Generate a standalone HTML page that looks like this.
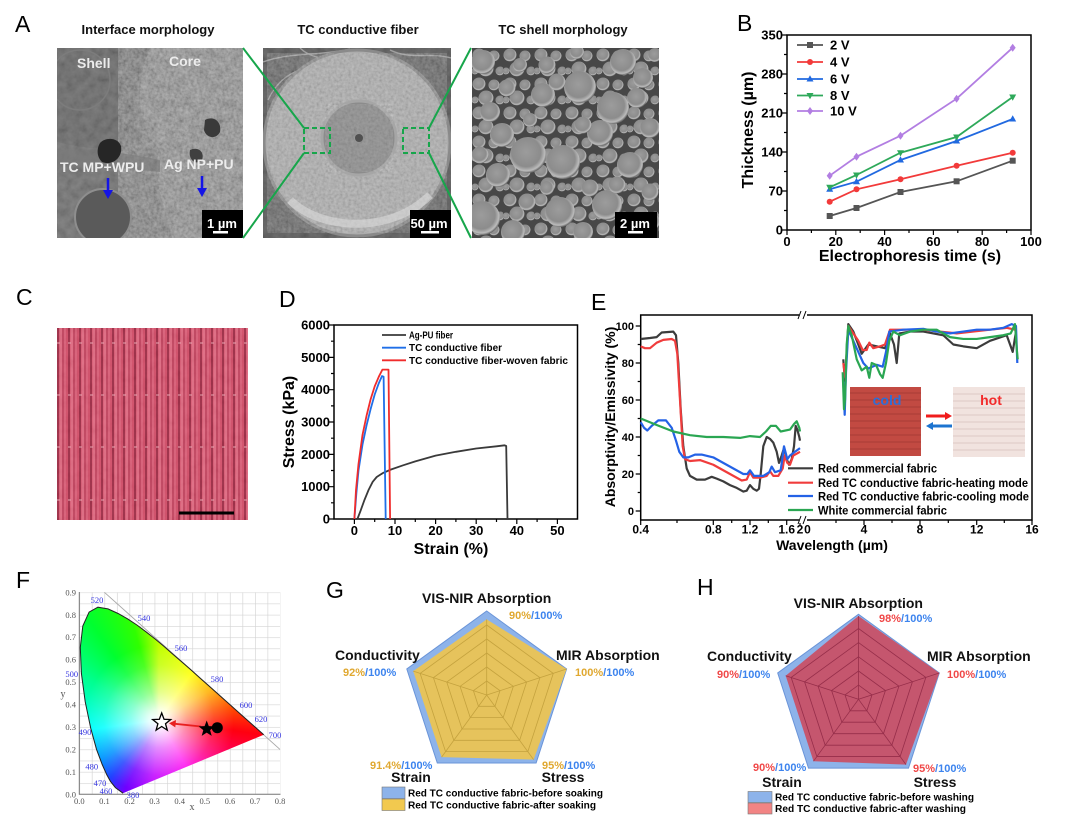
<!DOCTYPE html>
<html><head><meta charset="utf-8">
<style>
html,body{margin:0;padding:0;background:#fff;}
#wrap{position:relative;width:1080px;height:816px;overflow:hidden;background:#fff;font-family:"Liberation Sans",Arial,sans-serif;}
#wrap svg{position:absolute;left:0;top:0;}
#cie{position:absolute;left:79px;top:592px;width:202px;height:203px;z-index:2;
background:
radial-gradient(circle at 80px 128px, rgba(255,255,255,1) 0px, rgba(255,255,255,.9) 10px, rgba(255,255,255,.55) 28px, rgba(255,255,255,.15) 55px, rgba(255,255,255,0) 75px),
conic-gradient(from 0deg at 80px 128px, #c0ff00 0deg, #ffff00 35deg, #ffb000 60deg, #ff5000 80deg, #ff0010 98deg, #ff0080 125deg, #ff00f0 150deg, #c000ff 185deg, #7000ff 206deg, #2040ff 220deg, #0090ff 235deg, #00ffff 262deg, #00ff90 300deg, #00ff30 325deg, #30ff00 345deg, #c0ff00 360deg);
clip-path:polygon(44px 201.2px,36.4px 195.6px,31.4px 189.3px,27.8px 182.8px,23.2px 172.5px,17.5px 157.3px,11.7px 136.1px,6.2px 109.7px,2.4px 81.5px,1.3px 55.4px,3.8px 34px,10.1px 20.1px,18.9px 15.2px,29px 16.9px,39.1px 21.5px,48.7px 26.9px,57.9px 33px,67px 39.8px,76px 46.9px,85px 54.4px,93.9px 62.2px,102.9px 70px,111.8px 77.8px,120.5px 85.6px,129px 93.1px,137px 100.3px,144.7px 107.1px,151.6px 113.3px,157.7px 118.7px,167.4px 127.4px,173.9px 133.1px,178px 136.8px,180.8px 139.3px,182.5px 140.8px,184.7px 142.8px);}
</style></head>
<body><div id="wrap">
<svg width="1080" height="816" viewBox="0 0 1080 816" style="z-index:1" font-family="'Liberation Sans', Arial, sans-serif">
<defs>
<filter id="nz" x="0" y="0" width="100%" height="100%">
<feTurbulence type="fractalNoise" baseFrequency="0.35" numOctaves="2" seed="3"/>
<feColorMatrix type="matrix" values="1 0 0 0 0  1 0 0 0 0  1 0 0 0 0  0 0 0 0 0.45"/>
</filter>
<filter id="nz2" x="0" y="0" width="100%" height="100%">
<feTurbulence type="fractalNoise" baseFrequency="0.12" numOctaves="3" seed="7"/>
<feColorMatrix type="matrix" values="1 0 0 0 0  1 0 0 0 0  1 0 0 0 0  0 0 0 0 0.4"/>
</filter>
<radialGradient id="sph" cx="45%" cy="42%" r="58%">
<stop offset="0" stop-color="#9c9c9c"/><stop offset="0.7" stop-color="#8c8c8c"/><stop offset="0.9" stop-color="#bcbcbc"/><stop offset="1" stop-color="#6a6a6a"/>
</radialGradient>
<pattern id="fill" patternUnits="userSpaceOnUse" x="472" y="48" width="31" height="29">
<rect width="31" height="29" fill="#474747"/>
<circle cx="7" cy="7" r="6.5" fill="url(#sph)"/>
<circle cx="22" cy="8" r="5.5" fill="url(#sph)"/>
<circle cx="14" cy="21" r="7.5" fill="url(#sph)"/>
<circle cx="28" cy="23" r="4.5" fill="url(#sph)"/>
<circle cx="3" cy="23" r="3.5" fill="url(#sph)"/>
</pattern>
<clipPath id="cl1"><rect x="57" y="48" width="186" height="190"/></clipPath>
<clipPath id="cl2"><rect x="263" y="48" width="188" height="190"/></clipPath>
<clipPath id="cl3"><rect x="472" y="48" width="187" height="190"/></clipPath>
<pattern id="fab" patternUnits="userSpaceOnUse" x="57" y="328" width="11" height="52">
<rect width="11" height="52" fill="#d24b66"/>
<rect x="2.5" width="2.5" height="52" fill="#e06880"/>
<rect x="7" width="2" height="52" fill="#da5c76"/>
<rect x="0" width="2" height="52" fill="#9e2a44"/>
<rect x="5.5" width="1" height="52" fill="#b23854"/>
</pattern>
<pattern id="grid" patternUnits="userSpaceOnUse" x="79.3" y="592.34" width="12.55" height="11.22">
<path d="M0 0.3 H12.55 M0.3 0 V11.22" stroke="#d4d4d4" stroke-width="0.7" fill="none"/>
</pattern>
<rect id="sq" x="-3" y="-3" width="6" height="6"/>
<circle id="ci" r="3"/>
<polygon id="tu" points="0,-3.8 3.5,2.5 -3.5,2.5"/>
<polygon id="td" points="0,3.8 3.5,-2.5 -3.5,-2.5"/>
<polygon id="di" points="0,-4 3,0 0,4 -3,0"/>
</defs>

<!-- ===== Panel A ===== -->
<text x="15" y="32" font-size="23">A</text>
<g font-weight="bold" font-size="13" text-anchor="middle" fill="#111">
<text x="148" y="34">Interface morphology</text>
<text x="358" y="34">TC conductive fiber</text>
<text x="563" y="34">TC shell morphology</text>
</g>
<!-- left SEM -->
<g clip-path="url(#cl1)">
<rect x="57" y="48" width="186" height="190" fill="#6a6a6a"/>
<path d="M57 48 H150 C138 80 128 112 142 140 C120 152 90 150 57 142 Z" fill="#626262"/>
<path d="M150 48 H243 V238 H172 C165 205 150 175 160 150 C140 130 132 90 150 48Z" fill="#7e7e7e"/>
<rect x="118" y="48" width="125" height="190" filter="url(#nz)" opacity="0.85"/>
<rect x="57" y="48" width="186" height="190" filter="url(#nz2)" opacity="0.5"/>
<path d="M57 150 C90 148 120 152 160 160 L160 172 C120 168 90 165 57 168Z" fill="#7a7a7a" opacity="0.6"/>
<path d="M100 143 C105 137 118 137 121 146 C123 158 112 166 102 162 C96 156 97 148 100 143Z" fill="#262626"/>
<path d="M205 120 C214 115 222 122 220 132 C216 140 206 138 204 130Z" fill="#3a3a3a"/>
<path d="M190 150 C198 146 205 152 202 160 C196 166 188 160 190 150Z" fill="#404040"/>
<circle cx="103" cy="217" r="28" fill="#5a5a5a" stroke="#8e8e8e" stroke-width="2"/>
<circle cx="80" cy="80" r="30" fill="none" stroke="#7c7c7c" stroke-width="1.5"/>
<g font-weight="bold" font-size="14" fill="#ececec">
<text x="77" y="68">Shell</text>
<text x="169" y="66">Core</text>
<text x="60" y="172">TC MP+WPU</text>
<text x="164" y="169">Ag NP+PU</text>
</g>
<g stroke="#1414e6" stroke-width="2.5" fill="#1414e6">
<line x1="108" y1="178" x2="108" y2="192"/><polygon points="103,190 113,190 108,199" stroke="none"/>
<line x1="202" y1="176" x2="202" y2="190"/><polygon points="197,188 207,188 202,197" stroke="none"/>
</g>
<rect x="202" y="210" width="41" height="28" fill="#000"/>
<text x="222" y="228" font-weight="bold" font-size="13" fill="#fff" text-anchor="middle">1 µm</text>
<rect x="213" y="231" width="15" height="2.5" fill="#fff"/>
</g>
<!-- middle SEM -->
<g clip-path="url(#cl2)">
<rect x="263" y="48" width="188" height="190" fill="#505050"/>
<rect x="263" y="48" width="188" height="190" filter="url(#nz2)" opacity="0.5"/>
<path d="M263 62 C290 52 320 56 350 49 M300 48 C310 58 330 62 360 60 M390 50 C410 60 430 52 451 58 M268 100 C275 85 285 75 300 70" stroke="#a0a0a0" stroke-width="1.4" fill="none"/>
<circle cx="357" cy="143" r="93" fill="#acacac"/>
<circle cx="357" cy="143" r="93" fill="none" stroke="#8a8a8a" stroke-width="3"/>
<circle cx="357" cy="143" r="90" fill="#000" filter="url(#nz)" opacity="0.55"/>
<path d="M290 200 C320 230 390 235 430 195" stroke="#dcdcdc" stroke-width="8" fill="none" opacity="0.6"/>
<circle cx="359" cy="138" r="37" fill="#8c8c8c" stroke="#a6a6a6" stroke-width="3"/>
<circle cx="359" cy="138" r="34" fill="#000" filter="url(#nz)" opacity="0.4"/>
<circle cx="359" cy="138" r="4" fill="#505050"/>
<rect x="410" y="210" width="41" height="28" fill="#000"/>
<text x="429" y="228" font-weight="bold" font-size="13" fill="#fff" text-anchor="middle">50 µm</text>
<rect x="421" y="231" width="18" height="2.5" fill="#fff"/>
</g>
<!-- right SEM -->
<g clip-path="url(#cl3)">
<rect x="472" y="48" width="187" height="190" fill="url(#fill)"/>
<g fill="url(#sph)">
<circle cx="580" cy="87" r="16"/><circle cx="613" cy="108" r="16"/><circle cx="528" cy="155" r="18"/>
<circle cx="563" cy="162" r="17"/><circle cx="607" cy="205" r="15"/><circle cx="600" cy="133" r="13"/>
<circle cx="623" cy="62" r="13"/><circle cx="543" cy="95" r="12"/><circle cx="502" cy="135" r="12"/>
<circle cx="483" cy="218" r="17"/><circle cx="560" cy="212" r="15"/><circle cx="498" cy="175" r="12"/>
<circle cx="637" cy="98" r="10"/><circle cx="630" cy="165" r="13"/><circle cx="483" cy="62" r="12"/>
<circle cx="507" cy="88" r="8.5"/><circle cx="557" cy="82" r="8.5"/><circle cx="583" cy="125" r="8.5"/>
<circle cx="643" cy="78" r="10"/><circle cx="490" cy="112" r="10"/><circle cx="650" cy="128" r="10"/>
<circle cx="527" cy="202" r="8.5"/><circle cx="513" cy="232" r="12"/><circle cx="583" cy="232" r="10"/>
<circle cx="577" cy="52" r="7"/><circle cx="547" cy="65" r="8.5"/><circle cx="520" cy="65" r="7"/>
<circle cx="617" cy="185" r="8.5"/><circle cx="590" cy="188" r="8.5"/><circle cx="547" cy="188" r="7"/>
<circle cx="650" cy="192" r="8.5"/><circle cx="480" cy="155" r="8.5"/><circle cx="633" cy="236" r="7"/>
<circle cx="652" cy="222" r="8"/><circle cx="530" cy="120" r="7"/><circle cx="655" cy="55" r="7"/>
</g>
<rect x="615" y="212" width="42" height="26" fill="#000"/>
<text x="635" y="228" font-weight="bold" font-size="13" fill="#fff" text-anchor="middle">2 µm</text>
<rect x="628" y="231" width="15" height="2.5" fill="#fff"/>
</g>
<g stroke="#17a64b" stroke-width="2" fill="none">
<path d="M243 48 L304 128 M243 238 L304 153 M429 128 L471 48 M429 153 L471 238"/>
<rect x="304" y="128" width="26" height="25" stroke-dasharray="5 3"/>
<rect x="403" y="128" width="26" height="25" stroke-dasharray="5 3"/>
</g>

<!-- ===== Panel B ===== -->
<text x="737" y="31" font-size="23">B</text>
<rect x="787" y="35" width="244" height="195" fill="none" stroke="#000" stroke-width="1.5"/>
<g stroke="#000" stroke-width="1.2">
<path d="M787 35 h-5 M787 74 h-5 M787 113 h-5 M787 152 h-5 M787 191 h-5 M787 230 h-5 M787 54.5 h-3 M787 93.5 h-3 M787 132.5 h-3 M787 171.5 h-3 M787 210.5 h-3"/>
<path d="M787 230 v5 M835.8 230 v5 M884.6 230 v5 M933.4 230 v5 M982.2 230 v5 M1031 230 v5 M811.4 230 v3 M860.2 230 v3 M909 230 v3 M957.8 230 v3 M1006.6 230 v3"/>
</g>
<g font-weight="bold" font-size="13" text-anchor="end">
<text x="783" y="39.5">350</text><text x="783" y="78.5">280</text><text x="783" y="117.5">210</text>
<text x="783" y="156.5">140</text><text x="783" y="195.5">70</text><text x="783" y="234.5">0</text>
</g>
<g font-weight="bold" font-size="13" text-anchor="middle">
<text x="787" y="246">0</text><text x="835.8" y="246">20</text><text x="884.6" y="246">40</text>
<text x="933.4" y="246">60</text><text x="982.2" y="246">80</text><text x="1031" y="246">100</text>
</g>
<text x="910" y="261" font-weight="bold" font-size="16" text-anchor="middle">Electrophoresis time (s)</text>
<text transform="translate(753,130) rotate(-90)" font-weight="bold" font-size="16" text-anchor="middle">Thickness (µm)</text>
<g fill="none" stroke-width="1.8">
<path d="M829.7,216 L856.5,208 L900.5,192 L956.6,181.3 L1012.7,160.7" stroke="#555"/>
<path d="M829.7,201.7 L856.5,189.3 L900.5,179.3 L956.6,165.7 L1012.7,152.7" stroke="#f23a3a"/>
<path d="M829.7,189.3 L856.5,181.7 L900.5,160 L956.6,141 L1012.7,119" stroke="#2169e0"/>
<path d="M829.7,187.3 L856.5,175 L900.5,152.7 L956.6,137 L1012.7,97" stroke="#2ea95a"/>
<path d="M829.7,175.7 L856.5,156.7 L900.5,135.7 L956.6,98.7 L1012.7,47.7" stroke="#b27ee2"/>
</g>
<g fill="#555"><use href="#sq" x="829.7" y="216"/><use href="#sq" x="856.5" y="208"/><use href="#sq" x="900.5" y="192"/><use href="#sq" x="956.6" y="181.3"/><use href="#sq" x="1012.7" y="160.7"/></g>
<g fill="#f23a3a"><use href="#ci" x="829.7" y="201.7"/><use href="#ci" x="856.5" y="189.3"/><use href="#ci" x="900.5" y="179.3"/><use href="#ci" x="956.6" y="165.7"/><use href="#ci" x="1012.7" y="152.7"/></g>
<g fill="#2169e0"><use href="#tu" x="829.7" y="189.3"/><use href="#tu" x="856.5" y="181.7"/><use href="#tu" x="900.5" y="160"/><use href="#tu" x="956.6" y="141"/><use href="#tu" x="1012.7" y="119"/></g>
<g fill="#2ea95a"><use href="#td" x="829.7" y="187.3"/><use href="#td" x="856.5" y="175"/><use href="#td" x="900.5" y="152.7"/><use href="#td" x="956.6" y="137"/><use href="#td" x="1012.7" y="97"/></g>
<g fill="#b27ee2"><use href="#di" x="829.7" y="175.7"/><use href="#di" x="856.5" y="156.7"/><use href="#di" x="900.5" y="135.7"/><use href="#di" x="956.6" y="98.7"/><use href="#di" x="1012.7" y="47.7"/></g>
<g stroke-width="1.8">
<line x1="797" y1="45" x2="823" y2="45" stroke="#555"/><use href="#sq" x="810" y="45" fill="#555"/>
<line x1="797" y1="62" x2="823" y2="62" stroke="#f23a3a"/><use href="#ci" x="810" y="62" fill="#f23a3a"/>
<line x1="797" y1="79" x2="823" y2="79" stroke="#2169e0"/><use href="#tu" x="810" y="79" fill="#2169e0"/>
<line x1="797" y1="95.5" x2="823" y2="95.5" stroke="#2ea95a"/><use href="#td" x="810" y="95.5" fill="#2ea95a"/>
<line x1="797" y1="111" x2="823" y2="111" stroke="#b27ee2"/><use href="#di" x="810" y="111" fill="#b27ee2"/>
</g>
<g font-weight="bold" font-size="13">
<text x="830" y="49.5">2 V</text><text x="830" y="66.5">4 V</text><text x="830" y="83.5">6 V</text>
<text x="830" y="100">8 V</text><text x="830" y="115.5">10 V</text>
</g>

<!-- ===== Panel C ===== -->
<text x="16" y="305" font-size="23">C</text>
<rect x="57" y="328" width="191" height="192" fill="url(#fab)"/>
<g stroke="#eaa0ad" stroke-width="1.5" stroke-dasharray="3 8" opacity="0.7">
<line x1="57" y1="343" x2="248" y2="343"/><line x1="57" y1="395" x2="248" y2="395"/>
<line x1="57" y1="447" x2="248" y2="447"/><line x1="57" y1="500" x2="248" y2="500"/>
</g>
<rect x="57" y="328" width="191" height="192" filter="url(#nz2)" opacity="0.2"/>
<line x1="179" y1="513" x2="234" y2="513" stroke="#000" stroke-width="3"/>

<!-- ===== Panel D ===== -->
<text x="279" y="307" font-size="23">D</text>
<rect x="334" y="325" width="243.5" height="194" fill="none" stroke="#000" stroke-width="1.5"/>
<g stroke="#000" stroke-width="1.2">
<path d="M334 519 h-5 M334 486.7 h-5 M334 454.4 h-5 M334 422 h-5 M334 389.7 h-5 M334 357.4 h-5 M334 325 h-5 M334 502.8 h-3 M334 470.5 h-3 M334 438.2 h-3 M334 405.9 h-3 M334 373.5 h-3 M334 341.2 h-3"/>
<path d="M354.4 519 v5 M395 519 v5 M435.6 519 v5 M476.2 519 v5 M516.8 519 v5 M557.4 519 v5 M374.7 519 v3 M415.3 519 v3 M455.9 519 v3 M496.5 519 v3 M537.1 519 v3"/>
</g>
<g font-weight="bold" font-size="13" text-anchor="end">
<text x="330" y="523.5">0</text><text x="330" y="491.2">1000</text><text x="330" y="458.9">2000</text>
<text x="330" y="426.5">3000</text><text x="330" y="394.2">4000</text><text x="330" y="361.9">5000</text><text x="330" y="329.5">6000</text>
</g>
<g font-weight="bold" font-size="13" text-anchor="middle">
<text x="354.4" y="535">0</text><text x="395" y="535">10</text><text x="435.6" y="535">20</text>
<text x="476.2" y="535">30</text><text x="516.8" y="535">40</text><text x="557.4" y="535">50</text>
</g>
<text x="451" y="554" font-weight="bold" font-size="16" text-anchor="middle">Strain (%)</text>
<text transform="translate(294,422) rotate(-90)" font-weight="bold" font-size="16" text-anchor="middle">Stress (kPa)</text>
<g fill="none" stroke-width="1.8" stroke-linejoin="round">
<path d="M357.4,519 L360.5,510.9 L364.6,499.6 L368.6,489.9 L372.7,481.8 L376.7,477 L382.8,473.1 L391,469.5 L403.1,465.3 L415.3,461.4 L435.6,455.6 L455.9,451.8 L476.2,448.5 L496.5,446.3 L504.6,445.3 L506.2,446 L507.5,519" stroke="#3a3a3a"/>
<path d="M354.4,519 L356.4,493.1 L358.5,470.5 L362.5,444.6 L366.6,425.2 L370.6,409.1 L374.7,394.5 L378.8,383.2 L382,376.1 L383.6,376.7 L385.7,519" stroke="#1f6fe8"/>
<path d="M354.4,519 L356,489.9 L358.5,464 L362.5,434.9 L366.6,415.5 L370.6,399.4 L374.7,386.4 L378.8,376.7 L382.4,369.6 L388.5,369.6 L390.1,519" stroke="#f02c2c"/>
</g>
<g stroke-width="1.8">
<line x1="382" y1="335" x2="406" y2="335" stroke="#3a3a3a"/>
<line x1="382" y1="347.7" x2="406" y2="347.7" stroke="#1f6fe8"/>
<line x1="382" y1="360.3" x2="406" y2="360.3" stroke="#f02c2c"/>
</g>
<g font-weight="bold" font-size="10">
<text x="409" y="338.5" textLength="44" lengthAdjust="spacingAndGlyphs">Ag-PU fiber</text>
<text x="409" y="351.2" textLength="93" lengthAdjust="spacingAndGlyphs">TC conductive fiber</text>
<text x="409" y="363.8" textLength="159" lengthAdjust="spacingAndGlyphs">TC conductive fiber-woven fabric</text>
</g>

<!-- ===== Panel E ===== -->
<text x="591" y="310" font-size="23">E</text>
<rect x="640.7" y="315" width="391.3" height="205" fill="none" stroke="#000" stroke-width="1.5"/>
<g stroke="#000" stroke-width="1.2">
<path d="M640.7 511 h-5 M640.7 474 h-5 M640.7 437 h-5 M640.7 400 h-5 M640.7 363 h-5 M640.7 326 h-5 M640.7 492.5 h-3 M640.7 455.5 h-3 M640.7 418.5 h-3 M640.7 381.5 h-3 M640.7 344.5 h-3"/>
<path d="M640.7 520 v5 M713.3 520 v5 M750 520 v5 M786.7 520 v5 M800 520 v5 M864 520 v5 M920 520 v5 M976.7 520 v5 M1032 520 v5 M677 520 v3 M731.7 520 v3 M768.3 520 v3 M836 520 v3 M892 520 v3 M948.3 520 v3 M1004.3 520 v3"/>
</g>
<rect x="799" y="312" width="8" height="6" fill="#fff"/>
<rect x="799" y="517" width="8" height="6" fill="#fff"/>
<g stroke="#000" stroke-width="1"><path d="M798 319 L801 311 M803 319 L806 311 M798 524 L801 516 M803 524 L806 516"/></g>
<g font-weight="bold" font-size="11" text-anchor="end">
<text x="634" y="515">0</text><text x="634" y="478">20</text><text x="634" y="441">40</text>
<text x="634" y="404">60</text><text x="634" y="367">80</text><text x="634" y="330">100</text>
</g>
<g font-weight="bold" font-size="12" text-anchor="middle">
<text x="640.7" y="533.5">0.4</text><text x="713.3" y="533.5">0.8</text><text x="750" y="533.5">1.2</text>
<text x="786.7" y="533.5">1.6</text><text x="800" y="533.5">2</text><text x="807.5" y="533.5">0</text>
<text x="864" y="533.5">4</text><text x="920" y="533.5">8</text><text x="976.7" y="533.5">12</text><text x="1032" y="533.5">16</text>
</g>
<text x="832" y="550" font-weight="bold" font-size="14" text-anchor="middle">Wavelength (µm)</text>
<text transform="translate(615,417) rotate(-90)" font-weight="bold" font-size="14" text-anchor="middle">Absorptivity/Emissivity (%)</text>
<g fill="none" stroke-width="2.2" stroke-linejoin="round">
<path stroke="#3c3c3c" d="M640.7,339 L650,338 L656.7,337.1 L661.7,332.5 L673.3,331.6 L676,335.3 L678.3,363 L680.7,409.3 L683.3,446.3 L686.7,468.5 L690,475.9 L696.7,479.6 L705,479.6 L711.7,476.8 L716.7,478.6 L723.3,481.4 L730,485.1 L736.7,487.9 L743.3,491.6 L746.7,490.7 L750,485.1 L753.3,488.8 L756.7,490.7 L759,488.8 L760.7,474 L763.3,446.3 L766.7,437 L770,438.9 L773.3,442.6 L776.7,451.8 L779,462.9 L781.7,455.5 L784,448.1 L786.7,459.2 L789,464.75 L791.7,459.2 L794,446.3 L795.7,425.9 L797.3,429.6 L799.3,437 L800,440.7"/>
<path stroke="#3c3c3c" d="M843.3,359.3 L845,381.5 L848.3,324.15 L853.3,331.55 L858.3,344.5 L861.7,353.75 L868.3,344.5 L876.7,346.35 L885,348.2 L890,333.4 L894,344.5 L896.7,363 L899.3,333.4 L910,331.55 L923.3,331.55 L943.3,335.25 L953.3,344.5 L963.3,346.35 L976.7,348.2 L990,340.8 L1006.7,335.25 L1012.7,351.9 L1016,331.55"/>
<path stroke="#f03c3c" d="M640.7,346.4 L645,348.2 L650,348.2 L656.7,342.7 L663.3,339.9 L671.7,339 L675,340.8 L677.3,353.7 L680,400 L682.7,446.3 L685,459.2 L690,461 L700,460.1 L713.3,464.75 L730,474 L741.7,480.5 L746.7,479.6 L750,472.2 L753.3,477.7 L760,477.7 L766.7,475.9 L770,471.2 L773.3,475.9 L778.3,475.9 L782.7,468.5 L784.7,455.5 L787.3,462.9 L790,464.75 L793.3,455.5 L796.7,453.7 L800,451.8"/>
<path stroke="#f03c3c" d="M843.3,363 L845.3,377.8 L848.3,326 L853.3,333.4 L858.3,340.8 L862.7,350 L866.7,350 L869.3,342.65 L873.3,348.2 L880,346.35 L885,344.5 L890,329.7 L906.7,329.7 L923.3,329.7 L940,331.55 L956.7,333.4 L973.3,331.55 L990,329.7 L1006.7,327.85 L1015,329.7"/>
<path stroke="#2462e6" d="M640.7,422.2 L644,427.75 L647.3,430.5 L651.7,425.9 L658.3,420.4 L666,420.4 L671.7,427.75 L676,440.7 L679.3,451.8 L683.3,457.4 L688.3,457.4 L695,454.6 L701.7,454.6 L713.3,457.4 L730,466.6 L743.3,474 L747.3,474 L750,470.3 L754,475.9 L763.3,475.9 L769.3,472.2 L771.7,466.6 L775,472.2 L780.7,470.3 L784,446.3 L787.3,459.2 L790,455.5 L795,451.8 L800,448.1"/>
<path stroke="#2462e6" d="M843.3,381.5 L844.7,414.8 L846,372.25 L848.3,329.7 L853.3,340.8 L858.3,351.9 L863.3,363 L868.3,368.55 L876.7,364.85 L882.7,366.7 L886,351.9 L889.3,331.55 L903.3,329.7 L923.3,328.8 L936.7,331.55 L950,333.4 L963.3,331.55 L976.7,329.7 L990,329.7 L1003.3,327.85 L1011.7,324.15 L1016,326 L1017.3,363"/>
<path stroke="#2aa652" d="M640.7,418.5 L656.7,425 L673.3,431.5 L690,435.2 L706.7,437 L723.3,437 L740,437.9 L750,436.1 L760,437 L766,431.5 L770.7,425.9 L776,425.9 L780.7,431.5 L790,429.6 L794,424 L796.7,421.3 L799.3,427.75 L800,431.5"/>
<path stroke="#2aa652" d="M842.7,372.25 L844,409.25 L845,400 L846.7,344.5 L848.3,326 L851.7,335.25 L856.7,359.3 L861.7,370.4 L866.7,366.7 L869.3,377.8 L871.7,363 L876,364.85 L880,374.1 L882.7,377.8 L886,363 L889.3,340.8 L893.3,331.55 L900,335.25 L910,331.55 L923.3,329.7 L936.7,329.7 L943.3,333.4 L950,337.1 L963.3,338.95 L976.7,338.95 L990,337.1 L1003.3,335.25 L1010.7,333.4 L1015,324.15 L1016.7,348.2 L1017.7,359.3"/>
</g>
<!-- inset -->
<rect x="850" y="387" width="71" height="69" fill="#c24a42"/>
<g stroke="#98342e" stroke-width="0.8" opacity="0.8">
<path d="M850 393 H921 M850 400 H921 M850 407 H921 M850 414 H921 M850 421 H921 M850 428 H921 M850 435 H921 M850 442 H921 M850 449 H921"/>
</g>
<rect x="953" y="387" width="72" height="70" fill="#f1e3df"/>
<g stroke="#d6c2bd" stroke-width="0.8">
<path d="M953 394 H1025 M953 401 H1025 M953 408 H1025 M953 415 H1025 M953 422 H1025 M953 429 H1025 M953 436 H1025 M953 443 H1025 M953 450 H1025"/>
</g>
<text x="887" y="405" font-weight="bold" font-size="14" fill="#2e6ed6" text-anchor="middle">cold</text>
<text x="991" y="405" font-weight="bold" font-size="14" fill="#f22a2a" text-anchor="middle">hot</text>
<line x1="926" y1="416" x2="946" y2="416" stroke="#f01c1c" stroke-width="3"/><polygon points="945,412 952,416 945,420" fill="#f01c1c"/>
<line x1="932" y1="426" x2="952" y2="426" stroke="#1c74d0" stroke-width="3"/><polygon points="933,422 926,426 933,430" fill="#1c74d0"/>
<g stroke-width="2.2">
<line x1="788" y1="468.3" x2="813" y2="468.3" stroke="#3c3c3c"/>
<line x1="788" y1="482.7" x2="813" y2="482.7" stroke="#f03c3c"/>
<line x1="788" y1="496" x2="813" y2="496" stroke="#2462e6"/>
<line x1="788" y1="510" x2="813" y2="510" stroke="#2aa652"/>
</g>
<g font-weight="bold" font-size="11.5">
<text x="818" y="472.5" textLength="119" lengthAdjust="spacingAndGlyphs">Red commercial fabric</text>
<text x="818" y="487" textLength="210" lengthAdjust="spacingAndGlyphs">Red TC conductive fabric-heating mode</text>
<text x="818" y="500.3" textLength="211" lengthAdjust="spacingAndGlyphs">Red TC conductive fabric-cooling mode</text>
<text x="818" y="514.3" textLength="129" lengthAdjust="spacingAndGlyphs">White commercial fabric</text>
</g>

<!-- ===== Panel F (axes/grid) ===== -->
<text x="16" y="588" font-size="23">F</text>
<rect x="79.3" y="592.3" width="201" height="202.3" fill="url(#grid)"/>
<line x1="79.3" y1="592" x2="79.3" y2="794.6" stroke="#777" stroke-width="1"/>
<line x1="79" y1="794.3" x2="280.5" y2="794.3" stroke="#777" stroke-width="1"/>
<line x1="104.4" y1="592.3" x2="280" y2="749.4" stroke="#a8a8a8" stroke-width="0.9"/>
<g font-family="'Liberation Serif', serif" font-size="8.5" fill="#555" text-anchor="end">
<text x="76" y="797.3">0.0</text><text x="76" y="774.9">0.1</text><text x="76" y="752.4">0.2</text><text x="76" y="730">0.3</text>
<text x="76" y="707.5">0.4</text><text x="76" y="685.1">0.5</text><text x="76" y="662.7">0.6</text><text x="76" y="640.2">0.7</text>
<text x="76" y="617.8">0.8</text><text x="76" y="595.3">0.9</text>
</g>
<g font-family="'Liberation Serif', serif" font-size="8.5" fill="#555" text-anchor="middle">
<text x="79.3" y="804">0.0</text><text x="104.4" y="804">0.1</text><text x="129.5" y="804">0.2</text><text x="154.6" y="804">0.3</text>
<text x="179.7" y="804">0.4</text><text x="204.8" y="804">0.5</text><text x="229.9" y="804">0.6</text><text x="255" y="804">0.7</text><text x="280.1" y="804">0.8</text>
<text x="192" y="810" font-size="10">x</text><text x="63" y="697" font-size="10">y</text>
</g>

<!-- ===== Panel G ===== -->
<text x="326" y="598" font-size="23">G</text>
<polygon points="486.7,611 566.6,669 536.1,763 437.3,763 406.8,669" fill="#8db3ea" stroke="#6a94d8" stroke-width="1"/>
<polygon points="486.7,619.4 566.6,669 533.6,759.6 441.6,757.1 413.2,671.1" fill="#e6c35c"/>
<g fill="none" stroke="#c4a23e" stroke-width="0.8">
<polygon points="0,-1 0.9511,-0.309 0.5878,0.809 -0.5878,0.809 -0.9511,-0.309" transform="translate(486.7 695) scale(14)" vector-effect="non-scaling-stroke"/>
<polygon points="0,-1 0.9511,-0.309 0.5878,0.809 -0.5878,0.809 -0.9511,-0.309" transform="translate(486.7 695) scale(28)" vector-effect="non-scaling-stroke"/>
<polygon points="0,-1 0.9511,-0.309 0.5878,0.809 -0.5878,0.809 -0.9511,-0.309" transform="translate(486.7 695) scale(42)" vector-effect="non-scaling-stroke"/>
<polygon points="0,-1 0.9511,-0.309 0.5878,0.809 -0.5878,0.809 -0.9511,-0.309" transform="translate(486.7 695) scale(56)" vector-effect="non-scaling-stroke"/>
<polygon points="0,-1 0.9511,-0.309 0.5878,0.809 -0.5878,0.809 -0.9511,-0.309" transform="translate(486.7 695) scale(70)" vector-effect="non-scaling-stroke"/>
<path d="M486.7,695 L486.7,619.4 M486.7,695 L566.6,669 M486.7,695 L533.6,759.6 M486.7,695 L441.6,757.1 M486.7,695 L413.2,671.1"/>
</g>
<g font-weight="bold" font-size="14" fill="#111">
<text x="486.7" y="603" text-anchor="middle">VIS-NIR Absorption</text>
<text x="556" y="660">MIR Absorption</text>
<text x="335" y="660">Conductivity</text>
<text x="411" y="782" text-anchor="middle">Strain</text>
<text x="563" y="782" text-anchor="middle">Stress</text>
</g>
<g font-weight="bold" font-size="11">
<text x="509" y="619"><tspan fill="#e0a830">90%</tspan><tspan fill="#3d84ee">/100%</tspan></text>
<text x="575" y="676"><tspan fill="#e0a830">100%</tspan><tspan fill="#3d84ee">/100%</tspan></text>
<text x="343" y="676"><tspan fill="#e0a830">92%</tspan><tspan fill="#3d84ee">/100%</tspan></text>
<text x="370" y="769"><tspan fill="#e0a830">91.4%</tspan><tspan fill="#3d84ee">/100%</tspan></text>
<text x="542" y="769"><tspan fill="#e0a830">95%</tspan><tspan fill="#3d84ee">/100%</tspan></text>
</g>
<rect x="382" y="787" width="23" height="11.5" fill="#8db3ea" stroke="#777" stroke-width="0.6"/>
<rect x="382" y="799" width="23" height="11.5" fill="#f2c94f" stroke="#777" stroke-width="0.6"/>
<g font-weight="bold" font-size="10">
<text x="408" y="796.5" textLength="195" lengthAdjust="spacingAndGlyphs">Red TC conductive fabric-before soaking</text>
<text x="408" y="808.5" textLength="188" lengthAdjust="spacingAndGlyphs">Red TC conductive fabric-after soaking</text>
</g>

<!-- ===== Panel H ===== -->
<text x="697" y="595" font-size="23">H</text>
<polygon points="858.5,614.3 939.3,673 908.5,768.1 808.5,768.1 777.7,673" fill="#8db3ea" stroke="#6a94d8" stroke-width="1"/>
<polygon points="858.5,616 939.3,673 906,764.6 813.5,761.2 785.7,675.7" fill="#c5566e"/>
<g fill="none" stroke="#962e4a" stroke-width="0.8">
<polygon points="0,-1 0.9511,-0.309 0.5878,0.809 -0.5878,0.809 -0.9511,-0.309" transform="translate(858.5 699.3) scale(14.2)" vector-effect="non-scaling-stroke"/>
<polygon points="0,-1 0.9511,-0.309 0.5878,0.809 -0.5878,0.809 -0.9511,-0.309" transform="translate(858.5 699.3) scale(28.3)" vector-effect="non-scaling-stroke"/>
<polygon points="0,-1 0.9511,-0.309 0.5878,0.809 -0.5878,0.809 -0.9511,-0.309" transform="translate(858.5 699.3) scale(42.5)" vector-effect="non-scaling-stroke"/>
<polygon points="0,-1 0.9511,-0.309 0.5878,0.809 -0.5878,0.809 -0.9511,-0.309" transform="translate(858.5 699.3) scale(56.7)" vector-effect="non-scaling-stroke"/>
<polygon points="0,-1 0.9511,-0.309 0.5878,0.809 -0.5878,0.809 -0.9511,-0.309" transform="translate(858.5 699.3) scale(70.8)" vector-effect="non-scaling-stroke"/>
<path d="M858.5,699.3 L858.5,616 M858.5,699.3 L939.3,673 M858.5,699.3 L906,764.6 M858.5,699.3 L813.5,761.2 M858.5,699.3 L785.7,675.7"/>
</g>
<g font-weight="bold" font-size="14" fill="#111">
<text x="858.3" y="608" text-anchor="middle">VIS-NIR Absorption</text>
<text x="927" y="661">MIR Absorption</text>
<text x="707" y="661">Conductivity</text>
<text x="782" y="787" text-anchor="middle">Strain</text>
<text x="935" y="787" text-anchor="middle">Stress</text>
</g>
<g font-weight="bold" font-size="11">
<text x="879" y="622"><tspan fill="#f04848">98%</tspan><tspan fill="#3d84ee">/100%</tspan></text>
<text x="947" y="678"><tspan fill="#f04848">100%</tspan><tspan fill="#3d84ee">/100%</tspan></text>
<text x="717" y="678"><tspan fill="#f04848">90%</tspan><tspan fill="#3d84ee">/100%</tspan></text>
<text x="753" y="771"><tspan fill="#f04848">90%</tspan><tspan fill="#3d84ee">/100%</tspan></text>
<text x="913" y="772"><tspan fill="#f04848">95%</tspan><tspan fill="#3d84ee">/100%</tspan></text>
</g>
<rect x="748" y="791.5" width="24" height="11" fill="#8db3ea" stroke="#777" stroke-width="0.6"/>
<rect x="748" y="803" width="24" height="11" fill="#f28484" stroke="#777" stroke-width="0.6"/>
<g font-weight="bold" font-size="10">
<text x="775" y="800.5" textLength="199" lengthAdjust="spacingAndGlyphs">Red TC conductive fabric-before washing</text>
<text x="775" y="812" textLength="191" lengthAdjust="spacingAndGlyphs">Red TC conductive fabric-after washing</text>
</g>
</svg>

<div id="cie"></div>

<svg width="1080" height="816" viewBox="0 0 1080 816" style="z-index:3">
<path d="M263.7,734.8 L261.5,732.8 L259.8,731.3 L257,728.8 L252.9,725.1 L246.4,719.4 L236.7,710.7 L230.6,705.3 L223.7,699.1 L216,692.3 L208,685.1 L199.5,677.6 L190.8,669.8 L181.9,662 L172.9,654.2 L164,646.4 L155,638.9 L146,631.8 L136.9,625 L127.7,618.9 L118.1,613.5 L108,608.9 L97.9,607.2 L89.1,612.1 L82.8,626 L80.3,647.4 L81.4,673.5 L85.2,701.7 L90.7,728.1 L96.5,749.3 L102.2,764.5 L106.8,774.8 L110.4,781.3 L115.4,787.6 L123,793.2" fill="none" stroke="#222" stroke-width="1"/>
<g font-family="'Liberation Serif', serif" font-size="8.5" fill="#3535e0" text-anchor="middle">
<text x="97" y="603">520</text><text x="144" y="621">540</text><text x="181" y="651">560</text>
<text x="217" y="682">580</text><text x="246" y="708">600</text><text x="261" y="722">620</text>
<text x="275" y="738">700</text><text x="71.7" y="677">500</text><text x="85" y="735">490</text>
<text x="91.7" y="769.7">480</text><text x="100" y="786">470</text><text x="106" y="794">460</text><text x="133" y="798">380</text>
</g>
<line x1="201" y1="726.5" x2="175" y2="723.8" stroke="#e82020" stroke-width="1.8"/>
<polygon points="169,723.2 176,720 175.3,727.4" fill="#e82020"/>
<polygon points="0,-1 0.247,-0.34 0.951,-0.309 0.4,0.13 0.588,0.809 0,0.42 -0.588,0.809 -0.4,0.13 -0.951,-0.309 -0.247,-0.34" transform="translate(161.7 722.5) scale(9.5)" fill="#fff" stroke="#000" stroke-width="1.3" vector-effect="non-scaling-stroke"/>
<polygon points="0,-1 0.247,-0.34 0.951,-0.309 0.4,0.13 0.588,0.809 0,0.42 -0.588,0.809 -0.4,0.13 -0.951,-0.309 -0.247,-0.34" transform="translate(206.7 729) scale(8.5)" fill="#000"/>
<circle cx="217.3" cy="727.7" r="5.5" fill="#000"/>
</svg>
</div></body></html>
